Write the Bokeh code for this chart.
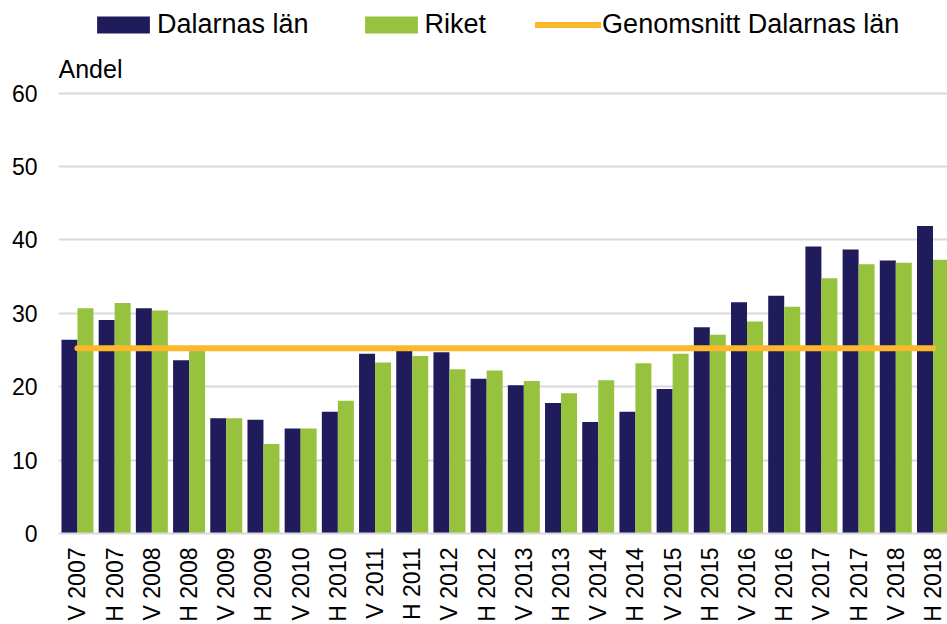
import math
from bokeh.plotting import figure
from bokeh.models import Range1d, FixedTicker, Legend, LegendItem, Label, ColumnDataSource
from bokeh.transform import dodge
from bokeh.embed import file_html
from bokeh.resources import INLINE

categories = ["V 2007", "H 2007", "V 2008", "H 2008", "V 2009", "H 2009",
              "V 2010", "H 2010", "V 2011", "H 2011", "V 2012", "H 2012",
              "V 2013", "H 2013", "V 2014", "H 2014", "V 2015", "H 2015",
              "V 2016", "H 2016", "V 2017", "H 2017", "V 2018", "H 2018"]
dalarnas = [26.4, 29.1, 30.7, 23.6, 15.7, 15.5, 14.3, 16.6, 24.5, 25.4, 24.7, 21.1,
            20.2, 17.8, 15.2, 16.6, 19.7, 28.1, 31.5, 32.4, 39.1, 38.7, 37.2, 41.9]
riket = [30.7, 31.4, 30.4, 25.0, 15.7, 12.2, 14.3, 18.1, 23.3, 24.2, 22.4, 22.2,
         20.8, 19.1, 20.9, 23.2, 24.5, 27.1, 28.9, 30.9, 34.8, 36.7, 36.9, 37.3]
y_ticks = [0, 10, 20, 30, 40, 50, 60]
series_names = ["Dalarnas län", "Riket", "Genomsnitt Dalarnas län"]
y_label = "Andel"

NAVY = "#201C5B"
GREEN = "#97C23E"
ORANGE = "#FBB82D"
GRID = "#D9D9D9"
FONT = "Liberation Sans"

idx = list(range(len(categories)))
average = sum(dalarnas) / len(dalarnas)

src = ColumnDataSource(dict(x=idx, dal=dalarnas, rik=riket))

# the frame reaches the top of the canvas so that the legend and the
# "Andel" label (drawn inside the frame) are not clipped
p = figure(width=947, height=624, output_backend="svg", toolbar_location=None,
           x_range=Range1d(-0.51, 23.39), y_range=Range1d(0, 72.64),
           min_border_left=58, min_border_right=0, min_border_top=0, min_border_bottom=91)
p.outline_line_color = None
p.background_fill_color = "white"
p.border_fill_color = "white"

r1 = p.vbar(x=dodge("x", -0.215, range=p.x_range), top="dal", width=0.43, source=src,
            fill_color=NAVY, line_color=None)
r2 = p.vbar(x=dodge("x", 0.215, range=p.x_range), top="rik", width=0.43, source=src,
            fill_color=GREEN, line_color=None)
r3 = p.line(x=[idx[0], idx[-1]], y=[average, average], line_color=ORANGE, line_width=6,
            line_cap="round")

# axes
p.xaxis.ticker = FixedTicker(ticks=idx)
p.xaxis.major_label_overrides = {i: c for i, c in zip(idx, categories)}
p.xaxis.major_label_orientation = math.pi / 2
p.xaxis.major_label_standoff = 14
p.xaxis.major_label_text_font = FONT
p.xaxis.major_label_text_font_size = "23px"
p.xaxis.major_label_text_color = "black"
p.xaxis.axis_line_color = GRID
p.xaxis.axis_line_width = 2
p.xaxis.major_tick_line_color = None
p.xaxis.minor_tick_line_color = None
p.xaxis.major_tick_out = 0
p.xaxis.minor_tick_out = 0

p.yaxis.ticker = FixedTicker(ticks=y_ticks)
p.yaxis.axis_line_color = None
p.yaxis.major_tick_line_color = None
p.yaxis.minor_tick_line_color = None
p.yaxis.major_tick_out = 0
p.yaxis.minor_tick_out = 0
p.yaxis.major_label_standoff = 21
p.yaxis.major_label_text_font = FONT
p.yaxis.major_label_text_font_size = "23px"
p.yaxis.major_label_text_color = "black"

p.xgrid.visible = False
p.ygrid.grid_line_color = GRID
p.ygrid.grid_line_width = 2

p.add_layout(Label(x=-0.51, y=60, y_offset=24, text=y_label, text_font=FONT,
                   text_font_size="25px", text_color="black",
                   text_baseline="alphabetic", text_align="left"))

legend = Legend(items=[LegendItem(label=series_names[0], renderers=[r1]),
                       LegendItem(label=series_names[1], renderers=[r2]),
                       LegendItem(label=series_names[2], renderers=[r3])],
                location=(32, 493), orientation="horizontal",
                glyph_width=66, glyph_height=21, label_standoff=1, spacing=49,
                padding=0, margin=0, label_text_font=FONT, label_text_font_size="27px",
                label_text_color="black",
                background_fill_alpha=0, border_line_alpha=0)
p.add_layout(legend)

open("out.html", "w").write(file_html(p, INLINE))
